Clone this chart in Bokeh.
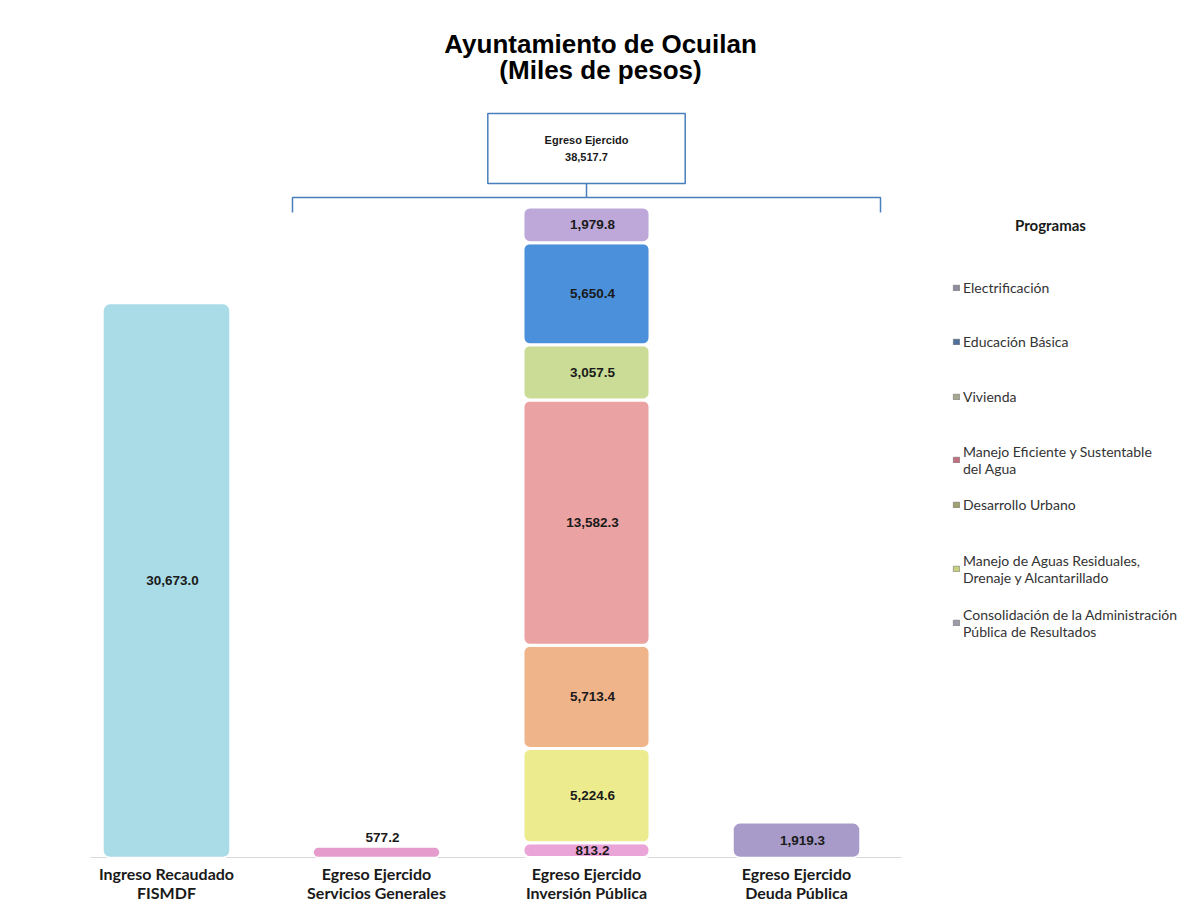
from bokeh.plotting import figure
from bokeh.models import Range1d, Legend, LegendItem, ColumnDataSource
from bokeh.core.properties import value
from bokeh.embed import file_html
from bokeh.resources import INLINE

# ---------------- data ----------------
categories = ["Ingreso Recaudado\nFISMDF",
              "Egreso Ejercido\nServicios Generales",
              "Egreso Ejercido\nInversión Pública",
              "Egreso Ejercido\nDeuda Pública"]
single_values = [30673.0, 577.2, None, 1919.3]
single_colors = ["#A9DCE7", "#E59CCC", None, "#A89BC9"]

programs = ["Electrificación",
            "Educación Básica",
            "Vivienda",
            "Manejo Eficiente y Sustentable\ndel Agua",
            "Desarrollo Urbano",
            "Manejo de Aguas Residuales,\nDrenaje y Alcantarillado",
            "Consolidación de la Administración\nPública de Resultados"]
program_values = [1979.8, 5650.4, 3057.5, 13582.3, 5713.4, 5224.6, 813.2]
program_colors = ["#BDA8D9", "#4B90DB", "#CADC95", "#EBA2A2", "#F0B48A", "#ECEC8E", "#EBA4D8"]
legend_icon_colors = ["#8E8EA0", "#4F6F9C", "#A8A890", "#C07080", "#A0A070", "#C8D080", "#9C9CA8"]

egreso_total_label = "Egreso Ejercido\n38,517.7"
title_lines = ["Ayuntamiento de Ocuilan", "(Miles de pesos)"]
legend_title = "Programas"

# ---------------- layout helpers ----------------
W, H = 1204, 905
BASE_Y = 857                   # px of the zero line from figure top
PX_PER_UNIT = 0.01806          # vertical scale (px per thousand pesos)
SLOT = 210                     # px per category
LEFT_PAD = 61                  # px from figure left to first category slot
LEGEND_ROW_Y = [287, 341, 396, 451, 504, 560, 614]   # px, first text line of each legend entry

def xpx(fig_x):
    return (fig_x - LEFT_PAD) / SLOT - 0.5

def ypx(fig_y):
    return (BASE_Y - fig_y) / PX_PER_UNIT

p = figure(x_range=Range1d(xpx(0), xpx(W)), y_range=Range1d(ypx(H), ypx(0)),
           width=W, height=H, output_backend="svg", toolbar_location=None,
           min_border_left=0, min_border_right=0, min_border_top=0, min_border_bottom=0)
p.outline_line_color = None
p.grid.visible = False
p.xaxis.visible = False
p.yaxis.visible = False
p.background_fill_color = "white"

xs = list(range(len(categories)))

# baseline
p.segment(x0=[xpx(90)], x1=[xs[-1] + 0.5], y0=[0], y1=[0], line_color="#D9D9D9", line_width=1)

# category labels
p.text(x=xs, y=[0] * len(xs), text=categories, y_offset=6, text_align="center", text_baseline="top",
       text_font=value("Lato"), text_font_style="bold", text_font_size="16px", text_color="#1a1a1a",
       text_line_height=1.02)

BAR_W = 0.605
RADIUS = 7

# single bars
for x, v, c in zip(xs, single_values, single_colors):
    if v is None:
        continue
    src = ColumnDataSource(dict(x=[x], top=[v]))
    p.vbar(x="x", top="top", bottom=0, width=BAR_W, source=src, fill_color=c,
           line_color="white", line_width=1.5, border_radius=RADIUS)

# stacked bar (bottom first)
inv_x = xs[2]
stack_vals = list(reversed(program_values))
stack_cols = list(reversed(program_colors))
base = 0.0
mids = []
for v, c in zip(stack_vals, stack_cols):
    src = ColumnDataSource(dict(x=[inv_x], bottom=[base], top=[base + v]))
    p.vbar(x="x", bottom="bottom", top="top", width=BAR_W, source=src, fill_color=c,
           line_color="white", line_width=3, border_radius=RADIUS)
    mids.append(base + v / 2)
    base += v
inv_total = base

# value labels
lab_font = value("Liberation Sans")
txt_x, txt_y, txt_t, txt_off = [], [], [], []
for x, v in zip(xs, single_values):
    if v is None:
        continue
    txt_x.append(x)
    if v < 1000:
        txt_y.append(v)
        txt_off.append(-10)
    else:
        txt_y.append(v / 2)
        txt_off.append(0)
    txt_t.append(f"{v:,.1f}")
for v, m in zip(stack_vals, mids):
    txt_x.append(inv_x)
    txt_y.append(m)
    txt_t.append(f"{v:,.1f}")
    txt_off.append(0)
p.text(x=txt_x, y=txt_y, text=txt_t, x_offset=6, y_offset=txt_off, text_align="center",
       text_baseline="middle", text_font=lab_font, text_font_style="bold", text_font_size="13.5px",
       text_color="#1a1a1a")

# bracket + box
bracket_y = inv_total * 1.0145
bracket_end = inv_total * 0.9915
box_bottom = inv_total * 1.036
box_top = inv_total * 1.1437
left_c = xs[1] - 0.4
right_c = xs[3] + 0.4
p.multi_line(xs=[[left_c, left_c, right_c, right_c], [inv_x, inv_x]],
             ys=[[bracket_end, bracket_y, bracket_y, bracket_end], [bracket_y, box_bottom]],
             line_color="#4A7EBB", line_width=1.5)
p.quad(left=[inv_x - 0.47], right=[inv_x + 0.47], bottom=[box_bottom], top=[box_top],
       fill_color="white", line_color="#4A7EBB", line_width=1.5)
p.text(x=[inv_x], y=[(box_bottom + box_top) / 2], text=[egreso_total_label], text_align="center",
       text_baseline="middle", text_font=lab_font, text_font_style="bold", text_font_size="11px",
       text_color="#1a1a1a", text_line_height=1.4)

# title
p.text(x=[xpx(600)] * 2, y=[ypx(43), ypx(69)], text=title_lines, text_align="center",
       text_baseline="middle", text_font=value("Liberation Sans"), text_font_style="bold",
       text_font_size="26px", text_color="black")

# legend title
p.text(x=[xpx(1050)], y=[ypx(224)], text=[legend_title], text_align="center", text_baseline="middle",
       text_font=value("Lato"), text_font_style="bold", text_font_size="15px", text_color="#1a1a1a")

# legend: one small legend per entry (icon renderers hold a zero-height bar far outside the view)
LINE_H = 17
for name, c, row_y in zip(programs, legend_icon_colors, LEGEND_ROW_Y):
    r = p.vbar(x=[xpx(-20000)], top=[ypx(H + 20000)], bottom=[ypx(H + 20000)], width=0.05,
               fill_color=c, line_color="#666666", line_width=0.5)
    n_lines = name.count("\n") + 1
    h = LINE_H * n_lines
    top = row_y - LINE_H / 2
    leg = Legend(items=[LegendItem(label=name, renderers=[r])], location=(952, H - top - h),
                 padding=0, spacing=0, margin=0, label_height=LINE_H, glyph_width=8, glyph_height=7,
                 label_standoff=3, label_text_font="Lato", label_text_font_size="14px",
                 label_text_color="#333333", border_line_color=None, background_fill_alpha=0)
    p.add_layout(leg)

open("out.html", "w").write(file_html(p, INLINE))
